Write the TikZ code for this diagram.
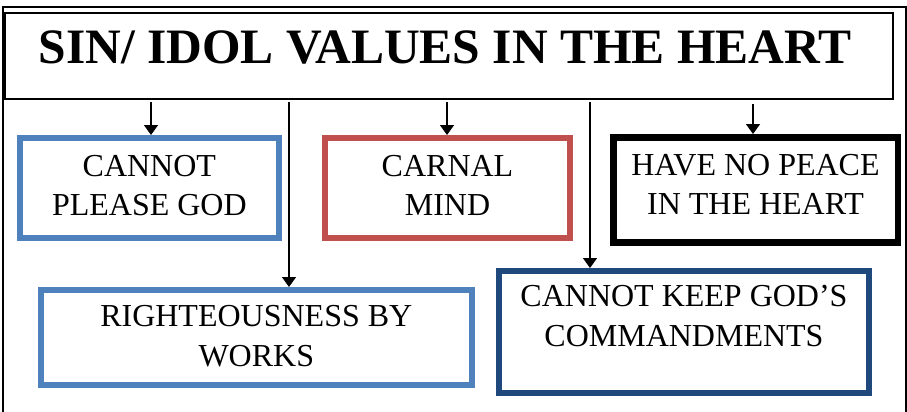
\documentclass[tikz,border=0pt]{standalone}
\usepackage{fontspec}
\setmainfont{Liberation Serif}
\usetikzlibrary{arrows.meta}
\definecolor{boxblue}{HTML}{4F81BD}
\definecolor{boxred}{HTML}{C0504D}
\definecolor{boxnavy}{HTML}{1F497D}
\begin{document}
\begin{tikzpicture}[x=1pt,y=-1pt,
  frame/.style={line width=1.5pt},
  titlebox/.style={draw, line width=2pt, inner sep=0pt},
  stepbox/.style={draw, line width=6pt, inner sep=0pt, rectangle},
  boxtext/.style={anchor=north, inner sep=0pt, align=center, font=\fontsize{32}{39.5}\selectfont},
  arr/.style={line width=1.5pt, -{Triangle[width=14pt,length=10pt]}}]
\useasboundingbox (0,0) rectangle (907,412);
% outer frame
\draw[frame] (3,412) -- (3,7) -- (906,7) -- (906,412);
% title
\node[titlebox, minimum width=888pt, minimum height=86pt] (tb) at (449,56) {};
\node[anchor=base, inner sep=0pt, font=\fontsize{49.5}{50}\selectfont\bfseries] (tt) at (445,63.5) {SIN/ IDOL VALUES IN THE HEART};
% boxes
\node[stepbox, draw=boxblue, minimum width=259.3pt, minimum height=100pt] (b1) at (149.35,188) {};
\node[boxtext] (t1) at (149.35,154.9) {CANNOT\\PLEASE GOD};
\node[stepbox, draw=boxred, minimum width=245pt, minimum height=100pt] (b2) at (447.5,188) {};
\node[boxtext] (t2) at (447.5,154.9) {CARNAL\\MIND};
\node[stepbox, draw=black, line width=6.5pt, minimum width=284.5pt, minimum height=105pt] (b3) at (755.5,189.75) {};
\node[boxtext] (t3) at (755.5,153.9) {HAVE NO PEACE\\IN THE HEART};
\node[stepbox, draw=boxblue, minimum width=431.4pt, minimum height=95pt] (b4) at (256.3,337.5) {};
\node[boxtext] (t4) at (256.3,305.4) {RIGHTEOUSNESS BY\\WORKS};
\node[stepbox, draw=boxnavy, minimum width=370pt, minimum height=122pt] (b5) at (684,332) {};
\node[boxtext] (t5) at (684,285.4) {CANNOT KEEP GOD’S\\COMMANDMENTS};
% arrows
\coordinate (s1) at (151,102);
\coordinate (s2) at (447,102);
\coordinate (s3) at (753,104);
\coordinate (s4) at (289,102);
\coordinate (s5) at (590,102);
\draw[arr] (s1) -- (s1 |- b1.north);
\draw[arr] (s2) -- (s2 |- b2.north);
\draw[arr] (s3) -- (s3 |- b3.north);
\draw[arr] (s4) -- (s4 |- b4.north);
\draw[arr] (s5) -- (s5 |- b5.north);
\end{tikzpicture}
\end{document}
